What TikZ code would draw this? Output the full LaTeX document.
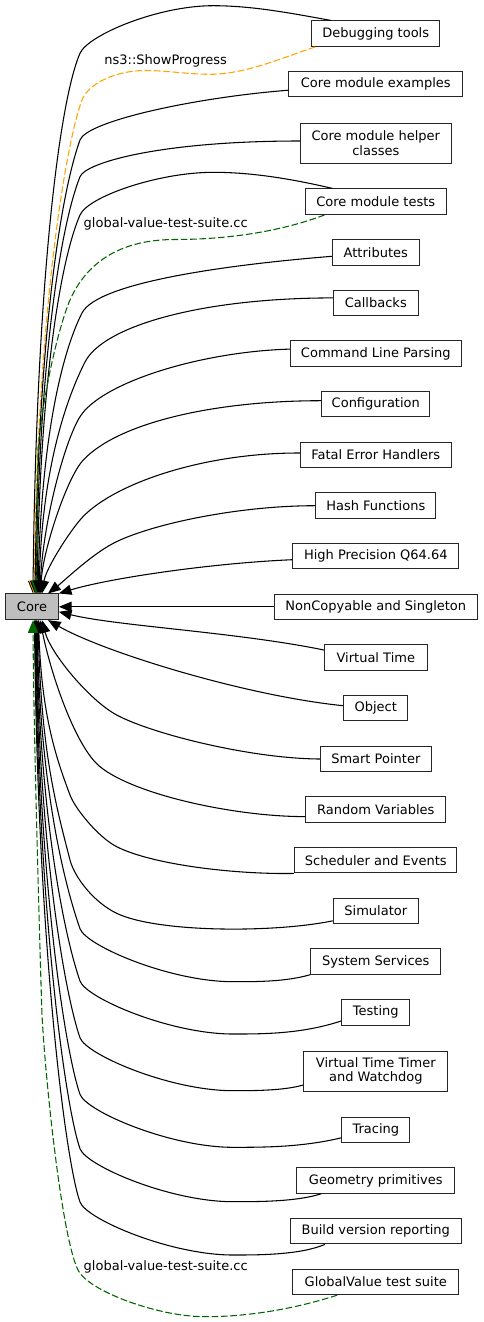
\documentclass[tikz,border=0pt]{standalone}
\usepackage{fontspec}
\setmainfont{DejaVu Sans}
\usetikzlibrary{arrows.meta,calc}
\definecolor{coregray}{HTML}{BFBFBF}
\definecolor{gvorange}{HTML}{FFA500}
\definecolor{gvgreen}{HTML}{006400}
\begin{document}
\begin{tikzpicture}[x=0.75pt,y=-0.75pt,
  gbox/.style={draw=black!85, line width=0.75pt, fill=white, inner xsep=0pt, inner ysep=0pt,
    minimum height=19.1pt, font=\fontsize{9.75pt}{10.75pt}\selectfont, align=center},
  tall/.style={minimum height=30pt},
  conn/.style={draw=black, line width=0.8pt, -{Triangle[length=9.5pt,width=7.6pt]}},
  dconn/.style={line width=0.8pt, dash pattern=on 5pt off 2pt, -{Triangle[length=9.5pt,width=7.6pt]}},
  lbl/.style={inner sep=0pt, font=\fontsize{9.75pt}{10.75pt}\selectfont}]
\useasboundingbox (0,0) rectangle (483,1322);

% nodes
\node[gbox, fill=coregray, minimum width=39.5pt, minimum height=19.25pt] (core) at (32,606.8) {Core};
\node[gbox, minimum width=96.2pt] (dbg) at (375.8,33.7) {Debugging tools};
\node[gbox, minimum width=130.3pt] (ex) at (375.8,84.2) {Core module examples};
\node[gbox, tall, minimum width=113.3pt] (help) at (375.8,143) {Core module helper\\classes};
\node[gbox, minimum width=106pt] (tests) at (375.8,201.7) {Core module tests};
\node[gbox, minimum width=65pt] (attr) at (375.8,252.3) {Attributes};
\node[gbox, minimum width=63.8pt] (cb) at (375.8,302.9) {Callbacks};
\node[gbox, minimum width=128.3pt] (clp) at (375.8,353.6) {Command Line Parsing};
\node[gbox, minimum width=81.2pt] (conf) at (375.8,404.2) {Configuration};
\node[gbox, minimum width=113pt] (fatal) at (375.8,455) {Fatal Error Handlers};
\node[gbox, minimum width=90.2pt] (hash) at (375.8,505.7) {Hash Functions};
\node[gbox, minimum width=124.3pt] (hp) at (375.8,556.2) {High Precision Q64.64};
\node[gbox, minimum width=152pt] (nc) at (375.8,606.8) {NonCopyable and Singleton};
\node[gbox, minimum width=77pt] (vt) at (375.8,657.5) {Virtual Time};
\node[gbox, minimum width=48.2pt] (obj) at (375.8,708.2) {Object};
\node[gbox, minimum width=83pt] (sp) at (375.8,759) {Smart Pointer};
\node[gbox, minimum width=105.2pt] (rv) at (375.8,809.6) {Random Variables};
\node[gbox, minimum width=121.7pt] (sched) at (375.8,860.2) {Scheduler and Events};
\node[gbox, minimum width=63.8pt] (sim) at (375.8,910.8) {Simulator};
\node[gbox, minimum width=97.7pt] (sys) at (375.8,961.5) {System Services};
\node[gbox, minimum width=51pt] (test) at (375.8,1012.3) {Testing};
\node[gbox, tall, minimum width=108.2pt] (vtt) at (375.8,1071) {Virtual Time Timer\\and Watchdog};
\node[gbox, minimum width=51pt] (trace) at (375.8,1129.8) {Tracing};
\node[gbox, minimum width=118.5pt] (geo) at (375.8,1180.5) {Geometry primitives};
\node[gbox, minimum width=128.3pt] (build) at (375.8,1231.2) {Build version reporting};
\node[gbox, minimum width=124.5pt] (gv) at (375.8,1281.9) {GlobalValue test suite};

% labels
\node[lbl] (lshow) at (165.7,60.7) {ns3::ShowProgress};
\node[lbl] (lgvtop) at (165.7,224.3) {global-value-test-suite.cc};
\node[lbl] (lgvbot) at (165.7,1266.7) {global-value-test-suite.cc};

% top edges
\draw[conn] ($(dbg.north west)+(20,0)$) .. controls (292.5,13.5) and (253,5.7) .. (213,5.7)
  .. controls (158,5.7) and (88,35) .. (80,53.3)
  .. controls (58,104) and (36,296.6) .. ($(core.north)+(1,0)$);
\draw[dconn, gvorange] ($(dbg.south west)+(4,0)$) .. controls (282,57.9) and (245,74.3) .. (210,74.3)
  .. controls (188,74.3) and (167,70.5) .. (145,70.5)
  .. controls (115,70.5) and (88,84) .. (82,100)
  .. controls (64.5,147) and (37,322.3) .. ($(core.north)+(2,0)$);
\draw[conn] ($(ex.west)+(0,6)$) .. controls (194,97.6) and (86.8,121.2) .. (80,140)
  .. controls (59.6,196.4) and (38,344.3) .. ($(core.north)+(3,0)$);
\draw[conn] ($(help.west)+(0,-2)$) .. controls (160,141) and (85.5,162.7) .. (80,176.7)
  .. controls (59.7,227.9) and (39,364.5) .. ($(core.north)+(4,0)$);
\draw[conn] ($(tests.north west)+(28,0)$) .. controls (294,179.4) and (253.3,172.3) .. (213.3,172.3)
  .. controls (158.3,172.3) and (88,196.6) .. (80,215)
  .. controls (60,261) and (40,385.6) .. ($(core.north)+(5,0)$);
\draw[dconn, gvgreen] ($(tests.south west)+(20,0)$) .. controls (278.5,232.3) and (225,239.5) .. (175,239.5)
  .. controls (130,239.5) and (90,255) .. (70,300)
  .. controls (58,328) and (42,400) .. (38,450)
  -- ($(core.north)+(4,0)$);
\draw[conn] ($(attr.west)+(0,4)$) .. controls (232.3,264.3) and (97.75,281.85) .. (82,313)
  .. controls (61.75,353) and (41,439.5) .. ($(core.north)+(6,0)$);
\draw[conn] ($(cb.west)+(0,-5)$) .. controls (200,298) and (103,326.4) .. (85,362)
  .. controls (67,397.6) and (42,466.4) .. ($(core.north)+(7,0)$);
\draw[conn] ($(clp.west)+(0,-4.5)$) .. controls (200,351.7) and (101.2,382.7) .. (80,416.7)
  .. controls (64.1,442.2) and (42.8,524) .. ($(core.north)+(8,0)$);
\draw[conn] ($(conf.west)+(0,-3.5)$) .. controls (211.7,400.7) and (117.5,423.5) .. (83.3,460)
  .. controls (66.2,478.2) and (42,554) .. ($(core.north)+(9,0)$);
\draw[conn] ($(fatal.west)+(0,-2)$) .. controls (200,452.7) and (109,485.6) .. (80,520)
  .. controls (67.1,535.3) and (45.75,569.25) .. ($(core.north)+(10,0)$);
\draw[conn] (hash.west) .. controls (236,505.7) and (148.8,524.8) .. (113.3,543.3)
  .. controls (91.1,554.9) and (64,581) .. ($(core.north)+(16,0)$);
\draw[conn] ($(hp.west)+(0,3.5)$) .. controls (213,563) and (110,578) .. (core.north east);

% middle
\draw[conn] (nc.west) -- (core.east);
\draw[conn] ($(vt.west)+(0,-7.5)$) .. controls (236,632) and (116.5,626) .. ($(core.east)+(0,5)$);
\draw[conn] ($(obj.west)+(0,-2.5)$) .. controls (244.7,695.7) and (103,651.8) .. ($(core.south)+(16,0)$);

% bottom edges
\draw[conn] (sp.west) .. controls (250.3,758.6) and (151.9,733.8) .. (116.7,715)
  .. controls (90.3,700.9) and (50.75,654) .. ($(core.south)+(10,0)$);
\draw[conn] ($(rv.west)+(0,7)$) .. controls (235.7,816.7) and (135,795) .. (100,766.7)
  .. controls (76.6,747.8) and (52,678.8) .. ($(core.south)+(8,0)$);
\draw[conn] (sched.south west) .. controls (234.7,874.5) and (152.3,864.7) .. (116.7,846.7)
  .. controls (98.9,837.7) and (75.25,809.1) .. (70,795)
  .. controls (56.5,759) and (41.5,716) .. ($(core.south)+(6.5,0)$);
\draw[conn] ($(sim.west)+(0,10)$) .. controls (274,933) and (157.2,932.7) .. (116.7,913.3)
  .. controls (94.2,902.6) and (74.5,877.5) .. (70,860)
  .. controls (56.25,806.6) and (41,752) .. ($(core.south)+(6,0)$);
\draw[conn] (sys.south west) .. controls (285.7,981.7) and (258,981.7) .. (233,981.7)
  .. controls (170,981.7) and (86,945.7) .. (80,928.7)
  .. controls (65.2,886.4) and (40,789.7) .. ($(core.south)+(5,0)$);
\draw[conn] ($(test.west)+(0,8.6)$) .. controls (302,1034) and (263,1034) .. (233,1034)
  .. controls (170,1034) and (86,998) .. (80,981)
  .. controls (65.2,938.7) and (39.5,818.4) .. ($(core.south)+(4.5,0)$);
\draw[conn] ($(vtt.west)+(0,14)$) .. controls (283.7,1090.7) and (253,1090.7) .. (233,1090.7)
  .. controls (170,1090.7) and (86,1054.7) .. (80,1037.7)
  .. controls (65.2,995.4) and (39,849.6) .. ($(core.south)+(4,0)$);
\draw[conn] ($(trace.west)+(0,8)$) .. controls (302,1147.3) and (263,1147.3) .. (233,1147.3)
  .. controls (170,1147.3) and (86,1111.3) .. (80,1094.3)
  .. controls (65.2,1052) and (38.5,880.7) .. ($(core.south)+(3.5,0)$);
\draw[conn] ($(geo.south west)+(25,0)$) .. controls (297,1201.7) and (258,1201.7) .. (233,1201.7)
  .. controls (170,1201.7) and (86,1165.7) .. (80,1148.7)
  .. controls (65.2,1106.4) and (38,910.7) .. ($(core.south)+(3,0)$);
\draw[conn] ($(build.south west)+(35,0)$) .. controls (300,1255) and (258,1255) .. (233,1255)
  .. controls (170,1255) and (86,1219) .. (80,1202)
  .. controls (65.2,1160.7) and (37.5,940) .. ($(core.south)+(2.5,0)$);
\draw[dconn, gvgreen] ($(gv.south west)+(45,0)$) .. controls (295.5,1308.5) and (250,1316.7) .. (205,1316.7)
  .. controls (160,1316.7) and (95,1293.3) .. (80,1273.3)
  .. controls (62,1249) and (43.3,1060) .. (41.7,1006.7)
  .. controls (38.7,906.7) and (33.5,720) .. ($(core.south)+(1,0)$);
\end{tikzpicture}
\end{document}
